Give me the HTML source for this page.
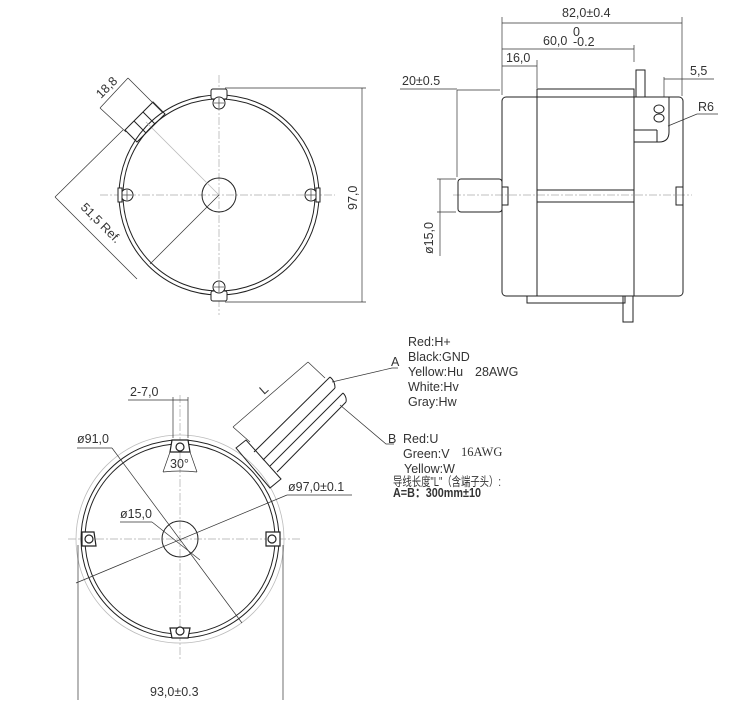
<!DOCTYPE html>
<html><head><meta charset="utf-8"><style>
html,body{margin:0;padding:0;background:#fff;}
svg{display:block;font-family:"Liberation Sans","Noto Sans CJK SC",sans-serif;}
.l{stroke:#222;stroke-width:1;fill:none}
.t{stroke:#333;stroke-width:0.7;fill:none}
.c{stroke:#aaa;stroke-width:0.7;fill:none;stroke-dasharray:8 2 2 2}
.g{stroke:#bbb;stroke-width:0.8;fill:none}
text{fill:#333;font-size:12.5px}
</style></head><body>
<svg width="730" height="704" viewBox="0 0 730 704">
<line class="c" x1="219" y1="75" x2="219" y2="315"/>
<line class="c" x1="100" y1="195" x2="335" y2="195"/>
<circle class="l" cx="219" cy="195" r="100"/>
<circle class="l" cx="219" cy="195" r="96"/>
<circle class="l" cx="219" cy="195" r="17" stroke-width="1.3"/>
<line class="g" x1="219" y1="195" x2="146" y2="122"/>
<line class="t" x1="219" y1="195" x2="150" y2="264"/>
<g stroke="#222" fill="#fff" stroke-width="1">
<rect x="211" y="89" width="16" height="10" rx="2"/><circle cx="219" cy="103" r="6"/>
<rect x="211" y="291" width="16" height="10" rx="2"/><circle cx="219" cy="287" r="6"/>
<circle cx="127" cy="195" r="6"/><rect x="118" y="188" width="4" height="14"/>
<circle cx="311" cy="195" r="6"/><rect x="316" y="188" width="4" height="14"/>
</g>
<g stroke="#444" stroke-width="0.7">
<line x1="219" y1="98" x2="219" y2="108"/><line x1="214" y1="103" x2="224" y2="103"/>
<line x1="219" y1="282" x2="219" y2="292"/><line x1="214" y1="287" x2="224" y2="287"/>
<line x1="127" y1="190" x2="127" y2="200"/><line x1="122" y1="195" x2="132" y2="195"/>
<line x1="311" y1="190" x2="311" y2="200"/><line x1="306" y1="195" x2="316" y2="195"/>
</g>
<polygon class="l" points="125,130 153,102 165,114 137,142" fill="#fff"/>
<line class="l" x1="134" y1="121" x2="146" y2="133"/>
<line class="l" x1="143" y1="112" x2="155" y2="124"/>
<line class="t" x1="100" y1="108" x2="128" y2="78"/>
<line class="t" x1="100" y1="108" x2="126" y2="132"/>
<line class="t" x1="128" y1="78" x2="163" y2="113"/>
<text x="0" y="0" transform="translate(101,99) rotate(-45)">18,8</text>
<line class="t" x1="55" y1="197" x2="137" y2="279"/>
<line class="t" x1="55" y1="197" x2="123" y2="130"/>
<text x="0" y="0" transform="translate(80,208) rotate(45)">51,5 Ref.</text>
<line class="t" x1="225" y1="88" x2="366" y2="88"/>
<line class="t" x1="225" y1="302" x2="366" y2="302"/>
<line class="t" x1="362" y1="88" x2="362" y2="302"/>
<text x="0" y="0" transform="translate(357,210) rotate(-90)">97,0</text>

<line class="c" x1="453" y1="195" x2="692" y2="195"/>
<rect class="l" x="502" y="97" width="181" height="199" rx="4"/>
<line class="l" x1="537" y1="97" x2="537" y2="296"/>
<line class="l" x1="634" y1="97" x2="634" y2="296"/>
<line class="l" x1="537" y1="190" x2="634" y2="190"/>
<line class="l" x1="537" y1="202" x2="634" y2="202"/>
<rect class="l" x="537" y="89" width="97" height="8"/>
<rect class="l" x="636" y="70" width="9" height="27"/>
<path class="l" d="M634 97 H669 V132 Q669 142 659 142 H634"/>
<line class="l" x1="634" y1="130" x2="657" y2="130"/><line class="l" x1="657" y1="130" x2="657" y2="142"/>
<ellipse class="l" cx="659" cy="109" rx="5" ry="4"/><ellipse class="l" cx="659" cy="118" rx="5" ry="4"/>
<rect class="l" x="527" y="296" width="98" height="7"/>
<rect class="l" x="623" y="296" width="10" height="26"/>
<rect class="l" x="458" y="179" width="44" height="33" rx="3"/>
<rect class="l" x="502" y="187" width="6" height="18"/>
<rect class="l" x="676" y="187" width="7" height="18"/>
<line class="t" x1="502" y1="17" x2="502" y2="95"/>
<line class="t" x1="682" y1="17" x2="682" y2="96"/>
<line class="t" x1="634" y1="45" x2="634" y2="62"/>
<line class="t" x1="537" y1="60" x2="537" y2="88"/>
<line class="t" x1="502" y1="23" x2="682" y2="23"/>
<text x="562" y="17">82,0±0.4</text>
<line class="t" x1="502" y1="49" x2="634" y2="49"/>
<text x="543" y="45">60,0</text><text x="573" y="36" font-size="9">0</text><text x="573" y="46" font-size="9">-0.2</text>
<line class="t" x1="502" y1="66" x2="537" y2="66"/>
<text x="506" y="62">16,0</text>
<line class="t" x1="457" y1="90" x2="500" y2="90"/>
<line class="t" x1="400" y1="89" x2="457" y2="89"/>
<line class="t" x1="457" y1="90" x2="457" y2="177"/>
<text x="402" y="85">20±0.5</text>
<line class="t" x1="440" y1="179" x2="440" y2="256"/>
<line class="t" x1="437" y1="179" x2="456" y2="179"/><line class="t" x1="437" y1="212" x2="456" y2="212"/>
<text x="0" y="0" transform="translate(433,254) rotate(-90)">ø15,0</text>
<line class="t" x1="664" y1="77" x2="664" y2="97"/>
<line class="t" x1="664" y1="79" x2="714" y2="79"/>
<text x="690" y="75">5,5</text>
<polyline class="t" points="668,126 697,114 718,114"/>
<text x="698" y="111">R6</text>

<line class="c" x1="180" y1="395" x2="180" y2="660"/>
<line class="c" x1="68" y1="539" x2="300" y2="539"/>
<circle class="g" cx="180" cy="539" r="104"/>
<circle class="l" cx="180" cy="539" r="99"/>
<circle class="l" cx="180" cy="539" r="95"/>
<circle class="l" cx="180" cy="539" r="18" stroke-width="1.3"/>
<g stroke="#222" fill="#fff" stroke-width="1.2">
<path d="M172 440 L188 440 L190 452 L170 452 Z"/><circle cx="180" cy="447" r="4"/>
<path d="M172 638 L188 638 L190 628 L170 628 Z"/><circle cx="180" cy="631" r="4"/>
<path d="M82 532 L94 532 L96 546 L82 546 Z"/><circle cx="89" cy="539" r="4"/>
<path d="M266 532 L280 532 L280 546 L266 546 Z"/><circle cx="272" cy="539" r="4"/>
</g>
<path class="t" d="M163 472 L170 452 M197 472 L190 452 M163 472 Q180 470 197 472"/>
<text x="170" y="468" font-size="11">30°</text>
<line class="t" x1="173" y1="397" x2="173" y2="438"/>
<line class="t" x1="188" y1="397" x2="188" y2="438"/>
<line class="t" x1="128" y1="400" x2="188" y2="400"/>
<text x="130" y="396">2-7,0</text>
<line class="t" x1="77" y1="448" x2="112" y2="448"/>
<line class="t" x1="112" y1="448" x2="242" y2="623"/>
<text x="77" y="443">ø91,0</text>
<line class="t" x1="287" y1="495" x2="352" y2="495"/>
<line class="t" x1="287" y1="495" x2="76" y2="583"/>
<text x="288" y="491">ø97,0±0.1</text>
<line class="t" x1="120" y1="522" x2="152" y2="522"/>
<line class="t" x1="152" y1="522" x2="200" y2="560"/>
<text x="120" y="518">ø15,0</text>
<line class="t" x1="78" y1="545" x2="78" y2="700"/>
<line class="t" x1="283" y1="545" x2="283" y2="700"/>
<text x="150" y="696">93,0±0.3</text>
<polygon class="l" points="236,448 246,440 281,479 270,488" fill="#fff"/>
<line class="l" x1="254" y1="452" x2="330" y2="377"/>
<line class="l" x1="263" y1="460" x2="335" y2="388"/>
<line class="l" x1="270" y1="466" x2="343" y2="393"/>
<line class="l" x1="277" y1="472" x2="346" y2="402"/>
<path class="l" d="M330 377 q5 4 5 11 M343 393 q4 4 3 9"/>
<line class="t" x1="233" y1="427" x2="308" y2="362"/>
<line class="t" x1="233" y1="427" x2="250" y2="442"/>
<line class="t" x1="308" y1="362" x2="325" y2="378"/>
<text x="0" y="0" transform="translate(264,395) rotate(-42)">L</text>
<polyline class="t" points="332,382 392,368 398,368"/>
<text x="391" y="366">A</text>
<polyline class="t" points="340,405 386,444 394,444"/>
<text x="388" y="443">B</text>
<g font-size="11">
<text x="408" y="346">Red:H+</text>
<text x="408" y="361">Black:GND</text>
<text x="408" y="376">Yellow:Hu</text>
<text x="408" y="391">White:Hv</text>
<text x="408" y="406">Gray:Hw</text>
<text x="403" y="443">Red:U</text>
<text x="403" y="458">Green:V</text>
<text x="404" y="473">Yellow:W</text>
</g>
<text x="475" y="376" font-size="12">28AWG</text>
<text x="461" y="456" font-size="12" font-family="Liberation Serif,serif">16AWG</text>
<text x="393" y="486" font-size="9" fill="#555" textLength="108" lengthAdjust="spacingAndGlyphs">导线长度"L"（含端子头）:</text>
<text x="393" y="497" font-size="9.5" font-weight="bold" textLength="88" lengthAdjust="spacingAndGlyphs">A=B：300mm±10</text>
</svg>
</body></html>
